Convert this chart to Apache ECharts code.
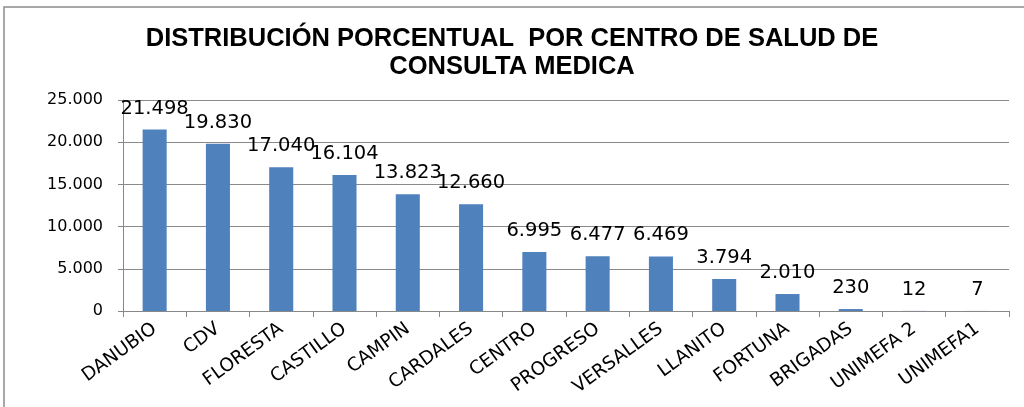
<!DOCTYPE html>
<html lang="es">
<head>
    <meta charset="UTF-8">
    <script src="https://cdn.jsdelivr.net/npm/echarts@6/dist/echarts.min.js"></script>
    <title>Consulta medica</title>
    <style>
        html, body { height: 100%; }
        * { padding: 0; margin: 0; }
        body { background: #ffffff; }
    </style>
</head>
<body>
    <div id="chart" style="width: 1024px;height: 407px;"></div>
    <script>
        var centros = ['DANUBIO', 'CDV', 'FLORESTA', 'CASTILLO', 'CAMPIN', 'CARDALES', 'CENTRO',
            'PROGRESO', 'VERSALLES', 'LLANITO', 'FORTUNA', 'BRIGADAS', 'UNIMEFA 2', 'UNIMEFA1'];
        var consultas = [21498, 19830, 17040, 16104, 13823, 12660, 6995, 6477, 6469, 3794, 2010, 230, 12, 7];

        // separador de miles con punto
        function fmt(v) {
            return String(v).replace(/\B(?=(\d{3})+(?!\d))/g, '.');
        }

        var myChart = echarts.init(document.getElementById('chart'));
        var option = {
            backgroundColor: '#ffffff',
            animation: false,
            title: {
                text: 'DISTRIBUCIÓN PORCENTUAL  POR CENTRO DE SALUD DE\nCONSULTA MEDICA',
                left: 'center',
                top: 20,
                textStyle: {
                    fontFamily: 'Liberation Sans',
                    fontWeight: 'bold',
                    fontSize: 25.5,
                    lineHeight: 28,
                    color: '#000000'
                }
            },
            graphic: [{
                type: 'rect',
                shape: { x: 4, y: 7, width: 1040, height: 420 },
                style: { fill: 'none', stroke: '#8c8c8c', lineWidth: 1.5 },
                silent: true
            }],
            grid: { left: 123, right: 15, top: 100, bottom: 96 },
            xAxis: {
                type: 'category',
                data: centros,
                axisLine: { lineStyle: { color: '#888888' } },
                axisTick: { show: true, length: 6, lineStyle: { color: '#888888' } },
                axisLabel: {
                    rotate: 36,
                    interval: 0,
                    margin: 16,
                    fontFamily: 'DejaVu Sans',
                    fontSize: 18.5,
                    color: '#000000'
                }
            },
            yAxis: {
                type: 'value',
                min: 0,
                max: 25000,
                interval: 5000,
                axisLine: { show: true, lineStyle: { color: '#888888' } },
                axisTick: { show: true, length: 5, lineStyle: { color: '#888888' } },
                splitLine: { lineStyle: { color: '#8a8a8a' } },
                axisLabel: {
                    formatter: fmt,
                    margin: 20,
                    fontFamily: 'DejaVu Sans',
                    fontSize: 16,
                    color: '#000000'
                }
            },
            series: [{
                type: 'bar',
                data: consultas,
                barWidth: '38%',
                itemStyle: { color: '#4f81bd' },
                label: {
                    show: true,
                    position: 'top',
                    distance: 11,
                    formatter: function (p) { return fmt(p.value); },
                    fontFamily: 'DejaVu Sans',
                    fontSize: 19.5,
                    color: '#000000'
                }
            }]
        };
        myChart.setOption(option);
    </script>
</body>
</html>
